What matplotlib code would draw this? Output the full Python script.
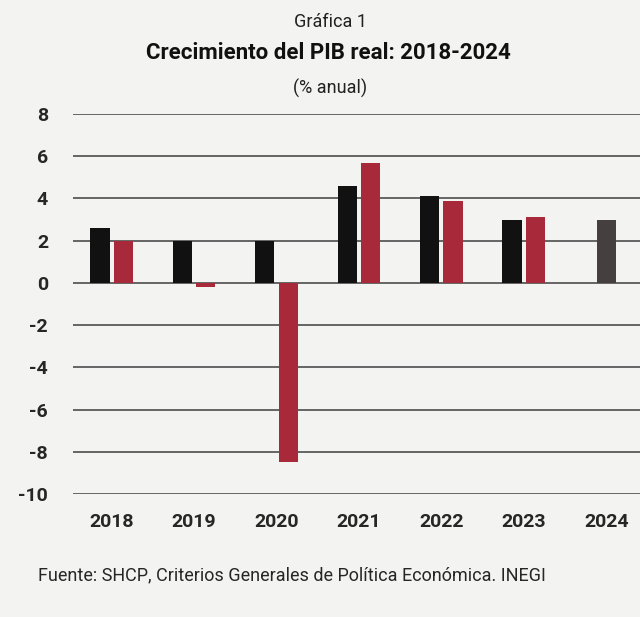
import matplotlib
matplotlib.use("Agg")
import matplotlib.pyplot as plt
import numpy as np

plt.rcParams['font.family'] = ['Roboto', 'DejaVu Sans']

years = ["2018", "2019", "2020", "2021", "2022", "2023", "2024"]
shcp = [2.6, 2.0, 2.0, 4.6, 4.1, 3.0]          # black bars (2018-2023)
inegi = [2.0, -0.2, -8.5, 5.7, 3.9, 3.1]       # red bars (2018-2023)
estimate_2024 = [3.0]                          # gray bar 2024
yticks = [8, 6, 4, 2, 0, -2, -4, -6, -8, -10]

bg = "#f3f3f1"
fig = plt.figure(figsize=(6.4, 6.17), dpi=100, facecolor=bg)
ax = fig.add_axes([73/640, 1-494/617, 1-73/640, (494-114)/617])
ax.set_facecolor(bg)

x = np.arange(len(years))
w = 0.234
off = 0.142
ax.bar(x[:6] - off, shcp, width=w, color="#111111", zorder=3)
ax.bar(x[:6] + off, inegi, width=w, color="#a82a3a", zorder=3)
ax.bar(x[6:], estimate_2024, width=w, color="#45403f", zorder=3)

ax.set_ylim(-10, 8)
ax.set_xlim(-0.47, 6.41)
ax.set_yticks(yticks)
ax.set_yticklabels([str(t) for t in yticks])
ax.set_xticks(x)
ax.set_xticklabels(years)
for yv in yticks:
    ax.axhline(yv, color="#5a5a5a", lw=1.3, zorder=1)
for s in ax.spines.values():
    s.set_visible(False)
ax.tick_params(axis='both', length=0, labelsize=14, colors="#262626")
ax.tick_params(axis='y', pad=18)
ax.tick_params(axis='x', pad=14)
for lab in ax.get_xticklabels() + ax.get_yticklabels():
    lab.set_fontweight('bold')

fig.text(0.516, 1-22/617, "Gráfica 1", ha="center", va="center", fontsize=13, color="#222222")
fig.text(0.513, 1-53/617, "Crecimiento del PIB real: 2018-2024", ha="center", va="center",
         fontsize=16, fontweight="bold", color="#111111")
fig.text(0.515, 1-88/617, "(% anual)", ha="center", va="center", fontsize=13, color="#222222")
fig.text(38/640, 1-575/617, "Fuente: SHCP, Criterios Generales de Política Económica. INEGI",
         ha="left", va="center", fontsize=13, color="#262626")

fig.savefig("out.png", dpi=100, facecolor=bg)
